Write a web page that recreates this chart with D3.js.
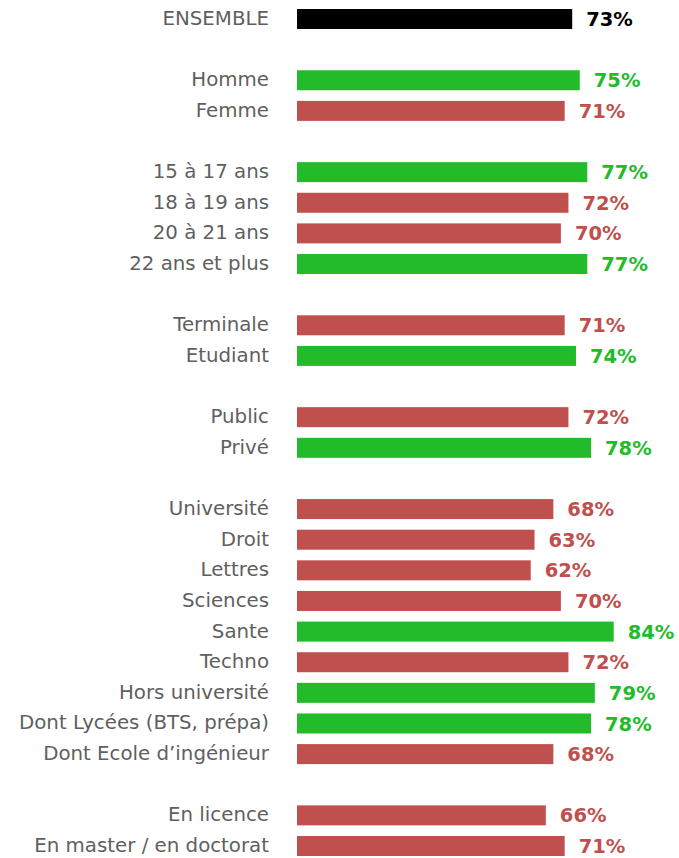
<!DOCTYPE html>
<html>
<head>
<meta charset="utf-8">
<script src="https://cdn.jsdelivr.net/npm/d3@7/dist/d3.min.js"></script>
<style>
body { margin: 0; background: #fff; }
.label { font: 19.8px "DejaVu Sans", sans-serif; fill: #5f5f5f; }
.value { font: bold 19.5px "DejaVu Sans", sans-serif; }
</style>
</head>
<body>
<div id="chart"></div>
<script>
// groupes de lignes (une ligne vide entre chaque groupe)
var groups = [
  ["ENSEMBLE"],
  ["Homme", "Femme"],
  ["15 à 17 ans", "18 à 19 ans", "20 à 21 ans", "22 ans et plus"],
  ["Terminale", "Etudiant"],
  ["Public", "Privé"],
  ["Université", "Droit", "Lettres", "Sciences", "Sante", "Techno", "Hors université", "Dont Lycées (BTS, prépa)", "Dont Ecole d’ingénieur"],
  ["En licence", "En master / en doctorat"]
];
var values = [
  [73],
  [75, 71],
  [77, 72, 70, 77],
  [71, 74],
  [72, 78],
  [68, 63, 62, 70, 84, 72, 79, 78, 68],
  [66, 71]
];

var W = 679, H = 858;
var green = "#22bb2a", red = "#c0504d", black = "#000";
var ensemble = values[0][0];

// aplatir avec index de position
var rows = [], slot = 0;
groups.forEach(function(g, gi) {
  g.forEach(function(name, i) {
    rows.push({name: name, value: values[gi][i], slot: slot, first: gi == 0});
    slot++;
  });
  slot++; // ligne vide
});
var nSlots = slot - 1;

var x = d3.scaleLinear().domain([0, 100]).range([297, 297 + 377]);
var y = d3.scaleLinear().domain([0, nSlots - 1]).range([19, 846]);
var barH = 20;

var svg = d3.select("#chart").append("svg")
  .attr("width", W).attr("height", H);

function col(d) {
  if (d.first) return black;
  return d.value > ensemble ? green : red;
}

var row = svg.selectAll(".row").data(rows).enter().append("g")
  .attr("class", "row")
  .attr("transform", function(d) { return "translate(0," + y(d.slot) + ")"; });

row.append("rect")
  .attr("x", x(0))
  .attr("y", -barH / 2)
  .attr("width", function(d) { return x(d.value) - x(0); })
  .attr("height", barH)
  .attr("fill", col);

row.append("text")
  .attr("class", "label")
  .attr("x", 269)
  .attr("dy", "0.3em")
  .attr("text-anchor", "end")
  .text(function(d) { return d.name; });

row.append("text")
  .attr("class", "value")
  .attr("x", function(d) { return x(d.value) + 14; })
  .attr("dy", "0.36em")
  .attr("fill", col)
  .text(function(d) { return d.value + "%"; });
</script>
</body>
</html>
